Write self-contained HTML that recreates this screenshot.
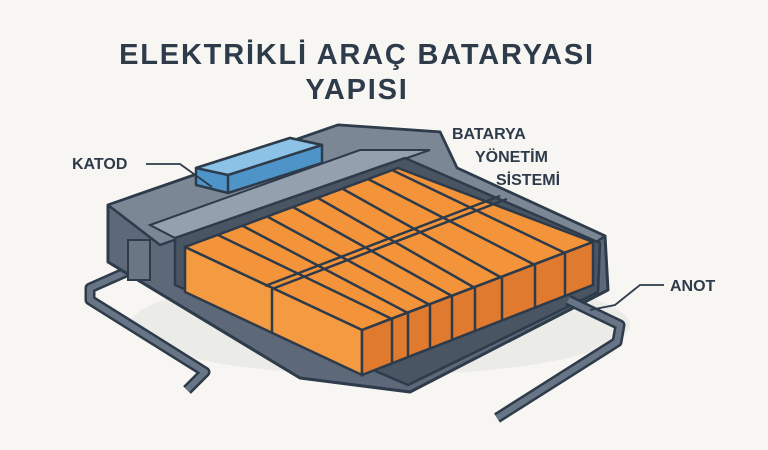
<!DOCTYPE html>
<html><head><style>
body{margin:0;background:#f7f6f2;}
svg{display:block}
text{font-family:"Liberation Sans",sans-serif;font-weight:bold;fill:#2e3b4a}
</style></head><body>
<svg width="768" height="450" viewBox="0 0 768 450">
<rect width="768" height="450" fill="#f7f6f2"/>
<text x="357" y="64" font-size="29" text-anchor="middle" letter-spacing="1.8">ELEKTRİKLİ ARAÇ BATARYASI</text>
<text x="357" y="99" font-size="29" text-anchor="middle" letter-spacing="1.8">YAPISI</text>
<!-- shadow -->
<ellipse cx="380" cy="325" rx="250" ry="50" fill="#ebebe8"/>
<!-- left pipe -->
<path d="M135,268 L90,288 L90,300 L205,372 L187,390" fill="none" stroke="#2e3b4a" stroke-width="11" stroke-linejoin="round"/>
<path d="M135,268 L90,288 L90,300 L205,372 L187,390" fill="none" stroke="#687586" stroke-width="6" stroke-linejoin="round"/>
<!-- tray -->
<path d="M108,205 L338,125 L440,132 L457,168 L605,236 L608,290 L410,392 L300,378 L108,262 Z" fill="#5d6878" stroke="#2e3b4a" stroke-width="3" stroke-linejoin="round"/>
<path d="M108,205 L338,125 L440,132 L457,168 L605,236 L592,245 L400,160 L160,245 Z" fill="#7c8796" stroke="#2e3b4a" stroke-width="2.5" stroke-linejoin="round"/>
<path d="M150,225 L360,150 L430,150 L175,238 Z" fill="#94a0ad" stroke="#2e3b4a" stroke-width="2"/>
<path d="M175,238 L405,158 L600,243 L598,292 L408,385 L175,285 Z" fill="#4a5564" stroke="#2e3b4a" stroke-width="2.5" stroke-linejoin="round"/>
<rect x="128" y="240" width="22" height="40" fill="#6b7685" stroke="#2e3b4a" stroke-width="2"/>
<!-- orange top -->
<path d="M185,247 L398,168 L593,242 L362,330 Z" fill="#f4943a" stroke="#2e3b4a" stroke-width="2.5" stroke-linejoin="round"/>
<path d="M185,247 L362,330 L362,375 L185,292 Z" fill="#f49a40" stroke="#2e3b4a" stroke-width="2.5"/>
<path d="M362,330 L593,242 L593,285 L362,375 Z" fill="#e07a2e" stroke="#2e3b4a" stroke-width="2.5"/>
<g stroke="#2e3b4a" stroke-width="2.5">
<line x1="218" y1="235" x2="392" y2="319"/><line x1="243" y1="226" x2="408" y2="313"/>
<line x1="268" y1="217" x2="430" y2="305"/><line x1="293" y1="207" x2="452" y2="296"/>
<line x1="318" y1="198" x2="475" y2="288"/><line x1="343" y1="189" x2="502" y2="278"/>
<line x1="368" y1="179" x2="535" y2="265"/><line x1="392" y1="170" x2="565" y2="253"/>
<line x1="265" y1="286" x2="500" y2="196"/><line x1="272" y1="289" x2="507" y2="199"/>
<line x1="272" y1="289" x2="272" y2="333"/>
<line x1="392" y1="319" x2="392" y2="363"/><line x1="408" y1="313" x2="408" y2="357"/>
<line x1="430" y1="305" x2="430" y2="349"/><line x1="452" y1="296" x2="452" y2="340"/>
<line x1="475" y1="288" x2="475" y2="331"/><line x1="502" y1="278" x2="502" y2="321"/>
<line x1="535" y1="265" x2="535" y2="309"/><line x1="565" y1="253" x2="565" y2="297"/>
</g>
<!-- blue box -->
<path d="M196,168 L290,138 L322,145 L322,163 L228,193 L196,185 Z" fill="#4e94c8" stroke="#2e3b4a" stroke-width="2.5" stroke-linejoin="round"/>
<path d="M196,168 L290,138 L322,145 L228,175 Z" fill="#8cc2e6" stroke="#2e3b4a" stroke-width="2.5" stroke-linejoin="round"/>
<line x1="228" y1="175" x2="228" y2="193" stroke="#2e3b4a" stroke-width="2.5"/>
<!-- right pipe -->
<path d="M568,300 L620,325 L617,342 L497,418" fill="none" stroke="#2e3b4a" stroke-width="11" stroke-linejoin="round"/>
<path d="M568,300 L620,325 L617,342 L497,418" fill="none" stroke="#687586" stroke-width="6" stroke-linejoin="round"/>
<!-- labels -->
<text x="72" y="169" font-size="16">KATOD</text>
<path d="M146,164 L180,164 L212,187" fill="none" stroke="#2e3b4a" stroke-width="1.8"/>
<text x="452" y="139" font-size="16">BATARYA</text>
<text x="475" y="162" font-size="16">YÖNETİM</text>
<text x="496" y="185" font-size="16">SİSTEMİ</text>
<text x="670" y="291" font-size="16">ANOT</text>
<path d="M664,285 L640,285 L615,305 L590,310" fill="none" stroke="#2e3b4a" stroke-width="1.8"/>
</svg>
</body></html>
